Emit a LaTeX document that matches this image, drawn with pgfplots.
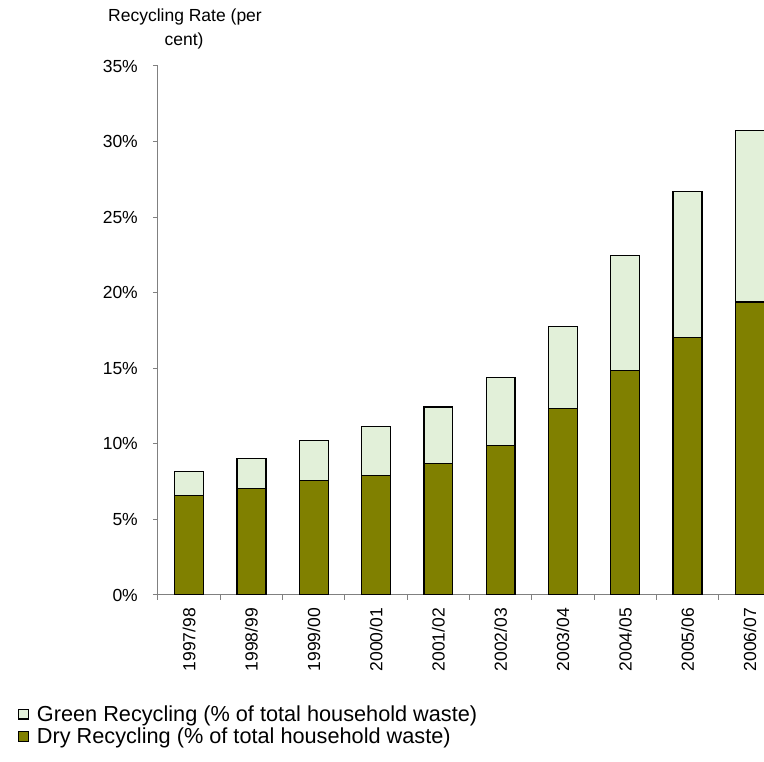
\documentclass[border=0pt]{standalone}
\usepackage{pgfplots}
\pgfplotsset{compat=1.18}
\usepackage{fontspec}
\setmainfont{Liberation Sans}
\definecolor{dryrec}{HTML}{808000}
\definecolor{greenrec}{HTML}{E2F0D9}
\definecolor{axisgray}{HTML}{808080}
\begin{document}
\begin{tikzpicture}[x=1pt,y=1pt]
\useasboundingbox (0,0) rectangle (764,762);
\begin{axis}[
  at={(158pt,167pt)}, anchor=south west,
  scale only axis, width=606pt, height=529pt,
  ybar stacked, bar width=0.465,
  xmin=-0.5, xmax=9.227, ymin=0, ymax=35,
  axis x line*=bottom, axis y line*=left,
  axis line style={draw=axisgray, line width=1pt},
  tick style={draw=axisgray, line width=1pt},
  tick align=outside, major tick length=5pt,
  xtick={-0.5,0.5,...,8.5}, xticklabels={},
  extra x ticks={0,1,2,3,4,5,6,7,8,9},
  extra x tick labels={1997/98,1998/99,1999/00,2000/01,2001/02,2002/03,2003/04,2004/05,2005/06,2006/07},
  extra x tick style={major tick length=0pt},
  ytick={0,5,...,35},
  yticklabel={\pgfmathprintnumber{\tick}\%},
  /pgf/number format/assume math mode=true,
  tick label style={font=\fontsize{17.5}{20}\selectfont},
  xticklabel style={rotate=90, anchor=east, inner xsep=13pt},
  yticklabel style={anchor=east, inner xsep=15pt},
  legend style={at={(axis description cs:-0.231,-0.205)}, anchor=north west, draw=none, fill=none,
    font=\fontsize{21.7}{24}\selectfont, inner sep=0pt, row sep=1pt, legend cell align=left},
  reverse legend,
  legend image code/.code={\draw[#1,draw=black,line width=1.2pt] (0pt,-4.75pt) rectangle (9.5pt,4.75pt); \path (15.5pt,0pt);},
  clip=true,
]
\addplot[fill=dryrec, draw=black, line width=1.3pt] coordinates {
(0,6.6) (1,7.03) (2,7.58) (3,7.89) (4,8.68) (5,9.91) (6,12.33) (7,14.86) (8,17.04) (9,19.38)};
\addlegendentry{Dry Recycling (\% of total household waste)}
\addplot[fill=greenrec, draw=black, line width=1.3pt] coordinates {
(0,1.55) (1,2.0) (2,2.64) (3,3.25) (4,3.76) (5,4.49) (6,5.42) (7,7.62) (8,9.64) (9,11.36)};
\addlegendentry{Green Recycling (\% of total household waste)}
\end{axis}
\node[anchor=base, font=\fontsize{17.5}{20}\selectfont] at (185,740) {Recycling Rate (per};
\node[anchor=base, font=\fontsize{17.5}{20}\selectfont] at (184,716) {cent)};
\end{tikzpicture}
\end{document}
